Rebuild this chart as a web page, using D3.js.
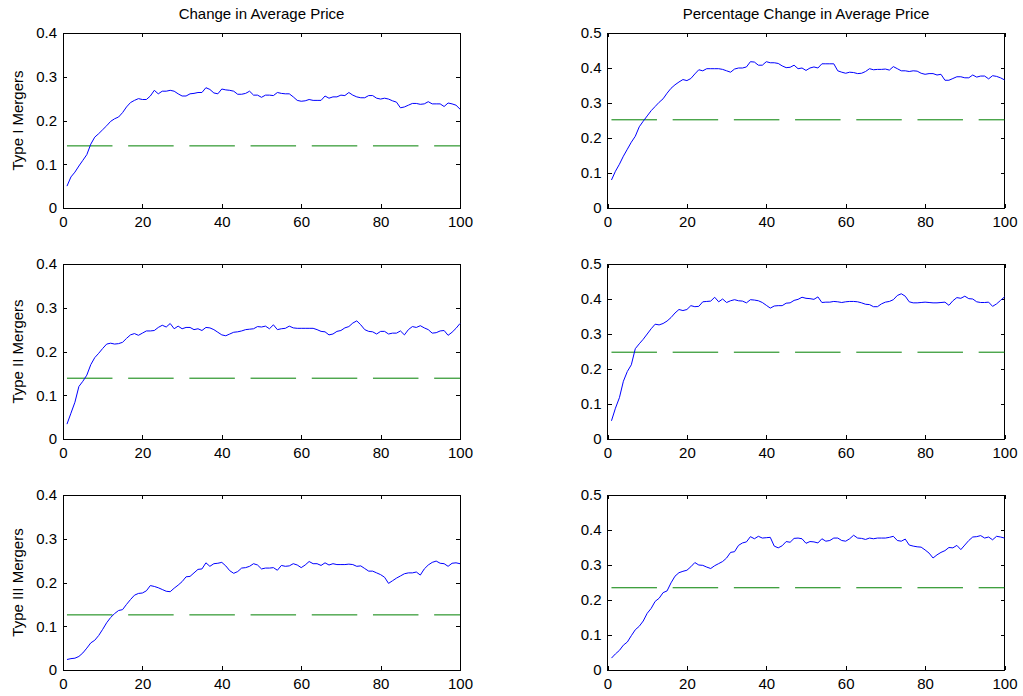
<!DOCTYPE html>
<html>
<head>
<meta charset="utf-8">
<script src="https://cdn.jsdelivr.net/npm/d3@7"></script>
<style>
  body { margin: 0; background: #fff; }
  text { font-family: "Liberation Sans", Arial, sans-serif; }
</style>
</head>
<body>
<div id="chart"></div>
<script>
// figure size
var width = 1023, height = 696;

// x axis ticks and column titles
var xTicks = [0, 20, 40, 60, 80, 100];
var yTicksChange = [0, 0.1, 0.2, 0.3, 0.4];
var yTicksPct = [0, 0.1, 0.2, 0.3, 0.4, 0.5];
var colTitles = ["Change in Average Price", "Percentage Change in Average Price"];
var rowLabels = ["Type I Mergers", "Type II Mergers", "Type III Mergers"];

// dashed reference levels (change, percentage change) per merger type
var baseChange = [0.142, 0.139, 0.126];
var basePct = [0.252, 0.248, 0.235];

// periods 1..100
var typeIChange = [0.050, 0.071, 0.082, 0.096, 0.109, 0.122, 0.146, 0.162, 0.170, 0.179,
  0.188, 0.198, 0.204, 0.208, 0.218, 0.231, 0.241, 0.246, 0.250, 0.248,
  0.248, 0.256, 0.269, 0.261, 0.267, 0.267, 0.269, 0.267, 0.261, 0.256,
  0.256, 0.261, 0.262, 0.264, 0.264, 0.275, 0.271, 0.263, 0.261, 0.272,
  0.270, 0.269, 0.267, 0.260, 0.260, 0.262, 0.267, 0.258, 0.258, 0.253,
  0.258, 0.258, 0.257, 0.264, 0.262, 0.261, 0.261, 0.254, 0.246, 0.244,
  0.245, 0.248, 0.246, 0.246, 0.246, 0.256, 0.251, 0.254, 0.254, 0.258,
  0.257, 0.264, 0.258, 0.254, 0.252, 0.252, 0.257, 0.257, 0.251, 0.249,
  0.251, 0.249, 0.245, 0.242, 0.229, 0.231, 0.235, 0.239, 0.239, 0.237,
  0.238, 0.243, 0.238, 0.238, 0.238, 0.232, 0.240, 0.238, 0.235, 0.226];

var typeIPct = [0.080, 0.105, 0.125, 0.148, 0.168, 0.188, 0.205, 0.232, 0.248, 0.263,
  0.278, 0.290, 0.302, 0.312, 0.328, 0.342, 0.352, 0.360, 0.367, 0.364,
  0.370, 0.383, 0.395, 0.392, 0.398, 0.398, 0.398, 0.398, 0.396, 0.392,
  0.388, 0.397, 0.400, 0.400, 0.403, 0.418, 0.417, 0.408, 0.408, 0.418,
  0.415, 0.415, 0.413, 0.406, 0.401, 0.402, 0.408, 0.398, 0.400, 0.393,
  0.400, 0.403, 0.400, 0.412, 0.412, 0.412, 0.412, 0.392, 0.388, 0.385,
  0.388, 0.387, 0.384, 0.385, 0.390, 0.398, 0.395, 0.396, 0.396, 0.397,
  0.394, 0.404, 0.398, 0.392, 0.392, 0.390, 0.392, 0.391, 0.385, 0.382,
  0.384, 0.384, 0.380, 0.382, 0.365, 0.365, 0.370, 0.375, 0.375, 0.372,
  0.372, 0.380, 0.374, 0.377, 0.377, 0.369, 0.378, 0.376, 0.372, 0.366];

var typeIIChange = [0.034, 0.059, 0.084, 0.120, 0.132, 0.146, 0.170, 0.186, 0.196, 0.207,
  0.217, 0.219, 0.217, 0.218, 0.221, 0.230, 0.238, 0.241, 0.237, 0.242,
  0.247, 0.247, 0.248, 0.255, 0.260, 0.256, 0.264, 0.252, 0.258, 0.252,
  0.255, 0.255, 0.250, 0.252, 0.248, 0.255, 0.254, 0.250, 0.244, 0.238,
  0.236, 0.240, 0.244, 0.245, 0.247, 0.250, 0.251, 0.252, 0.257, 0.256,
  0.258, 0.252, 0.261, 0.250, 0.252, 0.253, 0.258, 0.254, 0.253, 0.253,
  0.253, 0.253, 0.253, 0.250, 0.246, 0.245, 0.238, 0.240, 0.246, 0.248,
  0.254, 0.257, 0.265, 0.270, 0.261, 0.250, 0.246, 0.245, 0.240, 0.246,
  0.246, 0.240, 0.242, 0.242, 0.247, 0.238, 0.250, 0.257, 0.255, 0.259,
  0.254, 0.250, 0.242, 0.243, 0.247, 0.248, 0.237, 0.244, 0.253, 0.264];

var typeIIPct = [0.052, 0.088, 0.118, 0.165, 0.193, 0.212, 0.258, 0.272, 0.285, 0.300,
  0.315, 0.328, 0.326, 0.330, 0.337, 0.347, 0.360, 0.370, 0.367, 0.370,
  0.381, 0.378, 0.379, 0.392, 0.393, 0.394, 0.405, 0.392, 0.400, 0.390,
  0.395, 0.398, 0.395, 0.394, 0.389, 0.398, 0.397, 0.395, 0.390, 0.382,
  0.374, 0.380, 0.381, 0.381, 0.388, 0.389, 0.396, 0.399, 0.405, 0.402,
  0.401, 0.399, 0.406, 0.390, 0.391, 0.391, 0.393, 0.392, 0.390, 0.392,
  0.393, 0.393, 0.392, 0.389, 0.385, 0.384, 0.378, 0.378, 0.386, 0.391,
  0.393, 0.398, 0.410, 0.415, 0.408, 0.392, 0.389, 0.389, 0.390, 0.391,
  0.390, 0.389, 0.389, 0.390, 0.391, 0.382, 0.395, 0.404, 0.402, 0.408,
  0.401, 0.400, 0.392, 0.390, 0.390, 0.391, 0.379, 0.386, 0.396, 0.406];

var typeIIIChange = [0.024, 0.026, 0.027, 0.031, 0.039, 0.050, 0.062, 0.068, 0.079, 0.093,
  0.108, 0.120, 0.129, 0.136, 0.138, 0.150, 0.161, 0.171, 0.175, 0.176,
  0.181, 0.193, 0.191, 0.188, 0.184, 0.180, 0.179, 0.187, 0.194, 0.202,
  0.213, 0.214, 0.222, 0.230, 0.231, 0.245, 0.237, 0.243, 0.244, 0.246,
  0.238, 0.227, 0.221, 0.225, 0.233, 0.234, 0.237, 0.243, 0.240, 0.231,
  0.233, 0.233, 0.234, 0.228, 0.239, 0.237, 0.238, 0.243, 0.240, 0.234,
  0.240, 0.248, 0.243, 0.243, 0.239, 0.245, 0.240, 0.243, 0.241, 0.241,
  0.241, 0.242, 0.241, 0.237, 0.238, 0.232, 0.226, 0.226, 0.222, 0.218,
  0.212, 0.198, 0.204, 0.210, 0.215, 0.220, 0.222, 0.222, 0.224, 0.217,
  0.231, 0.240, 0.246, 0.249, 0.244, 0.243, 0.237, 0.244, 0.245, 0.243];

var typeIIIPct = [0.034, 0.046, 0.056, 0.071, 0.080, 0.098, 0.115, 0.125, 0.140, 0.162,
  0.176, 0.196, 0.205, 0.221, 0.226, 0.249, 0.268, 0.278, 0.282, 0.285,
  0.295, 0.307, 0.300, 0.299, 0.294, 0.290, 0.298, 0.304, 0.310, 0.320,
  0.336, 0.338, 0.356, 0.363, 0.366, 0.381, 0.375, 0.382, 0.377, 0.378,
  0.379, 0.354, 0.349, 0.355, 0.367, 0.365, 0.376, 0.377, 0.375, 0.362,
  0.367, 0.366, 0.363, 0.375, 0.368, 0.370, 0.377, 0.377, 0.370, 0.368,
  0.375, 0.385, 0.377, 0.376, 0.373, 0.377, 0.375, 0.377, 0.377, 0.377,
  0.379, 0.382, 0.370, 0.368, 0.374, 0.357, 0.354, 0.352, 0.351, 0.343,
  0.334, 0.320, 0.329, 0.336, 0.341, 0.350, 0.349, 0.356, 0.344, 0.357,
  0.370, 0.380, 0.381, 0.384, 0.377, 0.380, 0.372, 0.382, 0.380, 0.377];

// panel placement
var colLeft = [63, 607.5], plotW = 397;
var rowTop = [33, 264, 495], plotH = 175;

var panels = [
  {row: 0, col: 0, values: typeIChange, base: baseChange[0], yTicks: yTicksChange},
  {row: 0, col: 1, values: typeIPct, base: basePct[0], yTicks: yTicksPct},
  {row: 1, col: 0, values: typeIIChange, base: baseChange[1], yTicks: yTicksChange},
  {row: 1, col: 1, values: typeIIPct, base: basePct[1], yTicks: yTicksPct},
  {row: 2, col: 0, values: typeIIIChange, base: baseChange[2], yTicks: yTicksChange},
  {row: 2, col: 1, values: typeIIIPct, base: basePct[2], yTicks: yTicksPct}
];

var svg = d3.select("#chart")
    .append("svg")
    .attr("width", width)
    .attr("height", height)
    .style("background", "#fff");

var fontSize = "15px";
var fmtY = function(d) { return d === 0 ? "0" : d.toFixed(1); };

panels.forEach(function(p) {
    var left = colLeft[p.col], top = rowTop[p.row];
    var yMax = p.yTicks[p.yTicks.length - 1];

    var x = d3.scaleLinear().domain([0, 100]).range([left, left + plotW]);
    var y = d3.scaleLinear().domain([0, yMax]).range([top + plotH, top]);

    var g = svg.append("g");

    // inward ticks on all four sides, labels only left and bottom
    var axes = [
        {axis: d3.axisLeft(y).tickValues(p.yTicks).tickFormat(fmtY), t: "translate(" + left + ",0)"},
        {axis: d3.axisRight(y).tickValues(p.yTicks).tickFormat(""), t: "translate(" + (left + plotW) + ",0)"},
        {axis: d3.axisBottom(x).tickValues(xTicks).tickFormat(d3.format("d")), t: "translate(0," + (top + plotH) + ")"},
        {axis: d3.axisTop(x).tickValues(xTicks).tickFormat(""), t: "translate(0," + top + ")"}
    ];
    axes.forEach(function(a, i) {
        var ag = g.append("g")
            .attr("transform", a.t)
            .call(a.axis.tickSizeInner(-4).tickSizeOuter(0).tickPadding(i === 2 ? 8 : 6));
        ag.select(".domain").remove();
        ag.selectAll("line").attr("stroke", "#000").attr("shape-rendering", "crispEdges");
        ag.selectAll("text")
            .attr("fill", "#000")
            .style("font-size", fontSize)
            .style("font-family", "'Liberation Sans', Arial, sans-serif");
    });

    // axes box
    g.append("rect")
        .attr("x", left)
        .attr("y", top)
        .attr("width", plotW)
        .attr("height", plotH)
        .attr("fill", "none")
        .attr("stroke", "#000")
        .attr("stroke-width", 1)
        .attr("shape-rendering", "crispEdges");

    // dashed reference level
    g.append("line")
        .attr("x1", x(1))
        .attr("x2", x(100))
        .attr("y1", y(p.base))
        .attr("y2", y(p.base))
        .attr("stroke", "#008000")
        .attr("stroke-width", 1)
        .attr("stroke-dasharray", "45.5,15.7");

    // simulated series
    var line = d3.line()
        .x(function(d, i) { return x(i + 1); })
        .y(function(d) { return y(d); });

    g.append("path")
        .datum(p.values)
        .attr("d", line)
        .attr("fill", "none")
        .attr("stroke", "#0000ff")
        .attr("stroke-width", 1);

    // row label on the left column
    if (p.col === 0) {
        g.append("text")
            .attr("transform", "translate(22.5," + (top + plotH / 2) + ") rotate(-90)")
            .attr("text-anchor", "middle")
            .style("font-size", fontSize)
            .text(rowLabels[p.row]);
    }

    // column title on the top row
    if (p.row === 0) {
        g.append("text")
            .attr("x", left + plotW / 2)
            .attr("y", 19)
            .attr("text-anchor", "middle")
            .style("font-size", fontSize)
            .text(colTitles[p.col]);
    }
});
</script>
</body>
</html>
